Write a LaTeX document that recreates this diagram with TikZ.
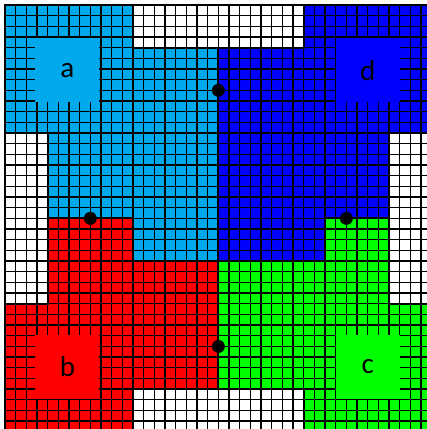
\documentclass[tikz,border=0pt]{standalone}
\usepackage{fontspec}
\usepackage{xcolor}
\usepackage{tikz}
\usetikzlibrary{positioning}
\newfontfamily\lblfont{Carlito}
\definecolor{regA}{RGB}{0,168,236}
\definecolor{regB}{RGB}{255,0,0}
\definecolor{regC}{RGB}{0,255,0}
\definecolor{regD}{RGB}{0,0,255}

\begin{document}
\begin{tikzpicture}[
  x=10.67pt, y=-10.67pt,
  cellgrid/.style={line width=1.4pt, black, xstep=10.67pt, ystep=10.67pt},
  border/.style={line width=2pt, black, line join=miter},
  lbl/.style={minimum size=64pt, inner sep=0pt, font=\lblfont\fontsize{29}{31}\selectfont},
  site/.style={circle, fill=black, minimum size=13pt, inner sep=0pt},
]
\useasboundingbox (-0.47,-0.47) rectangle (39.55,39.74);
\fill[regA] (0,0) -- (12,0) -- (12,4) -- (20,4) -- (20,24) -- (12,24) -- (12,20) -- (4,20) -- (4,12) -- (0,12) -- cycle;
\fill[regD] (28,0) -- (40,0) -- (40,12) -- (36,12) -- (36,20) -- (30,20) -- (30,24) -- (20,24) -- (20,4) -- (28,4) -- cycle;
\fill[regC] (30,20) -- (36,20) -- (36,28) -- (40,28) -- (40,40) -- (28,40) -- (28,36) -- (20,36) -- (20,24) -- (30,24) -- cycle;
\fill[regB] (4,20) -- (12,20) -- (12,24) -- (20,24) -- (20,36) -- (12,36) -- (12,40) -- (0,40) -- (0,28) -- (4,28) -- cycle;
\draw[cellgrid] (0,0) grid (40,40);
\draw[border] (0,0) -- (12,0) -- (12,4) -- (20,4) -- (20,24) -- (12,24) -- (12,20) -- (4,20) -- (4,12) -- (0,12) -- cycle;
\draw[border] (28,0) -- (40,0) -- (40,12) -- (36,12) -- (36,20) -- (30,20) -- (30,24) -- (20,24) -- (20,4) -- (28,4) -- cycle;
\draw[border] (30,20) -- (36,20) -- (36,28) -- (40,28) -- (40,40) -- (28,40) -- (28,36) -- (20,36) -- (20,24) -- (30,24) -- cycle;
\draw[border] (4,20) -- (12,20) -- (12,24) -- (20,24) -- (20,36) -- (12,36) -- (12,40) -- (0,40) -- (0,28) -- (4,28) -- cycle;
\node[lbl, fill=regA] (lbl-a) at (5.85,6.1) {a};
\node[lbl, fill=regD] (lbl-d) at (34,6.1) {d};
\node[lbl, fill=regB] (lbl-b) at (5.85,33.9) {b};
\node[lbl, fill=regC] (lbl-c) at (34,33.9) {c};
\node[site] (site-ad) at (20,8) {};
\node[site] (site-ab) at (8,20) {};
\node[site] (site-dc) at (32,20) {};
\node[site] (site-bc) at (20,32) {};
\end{tikzpicture}
\end{document}
